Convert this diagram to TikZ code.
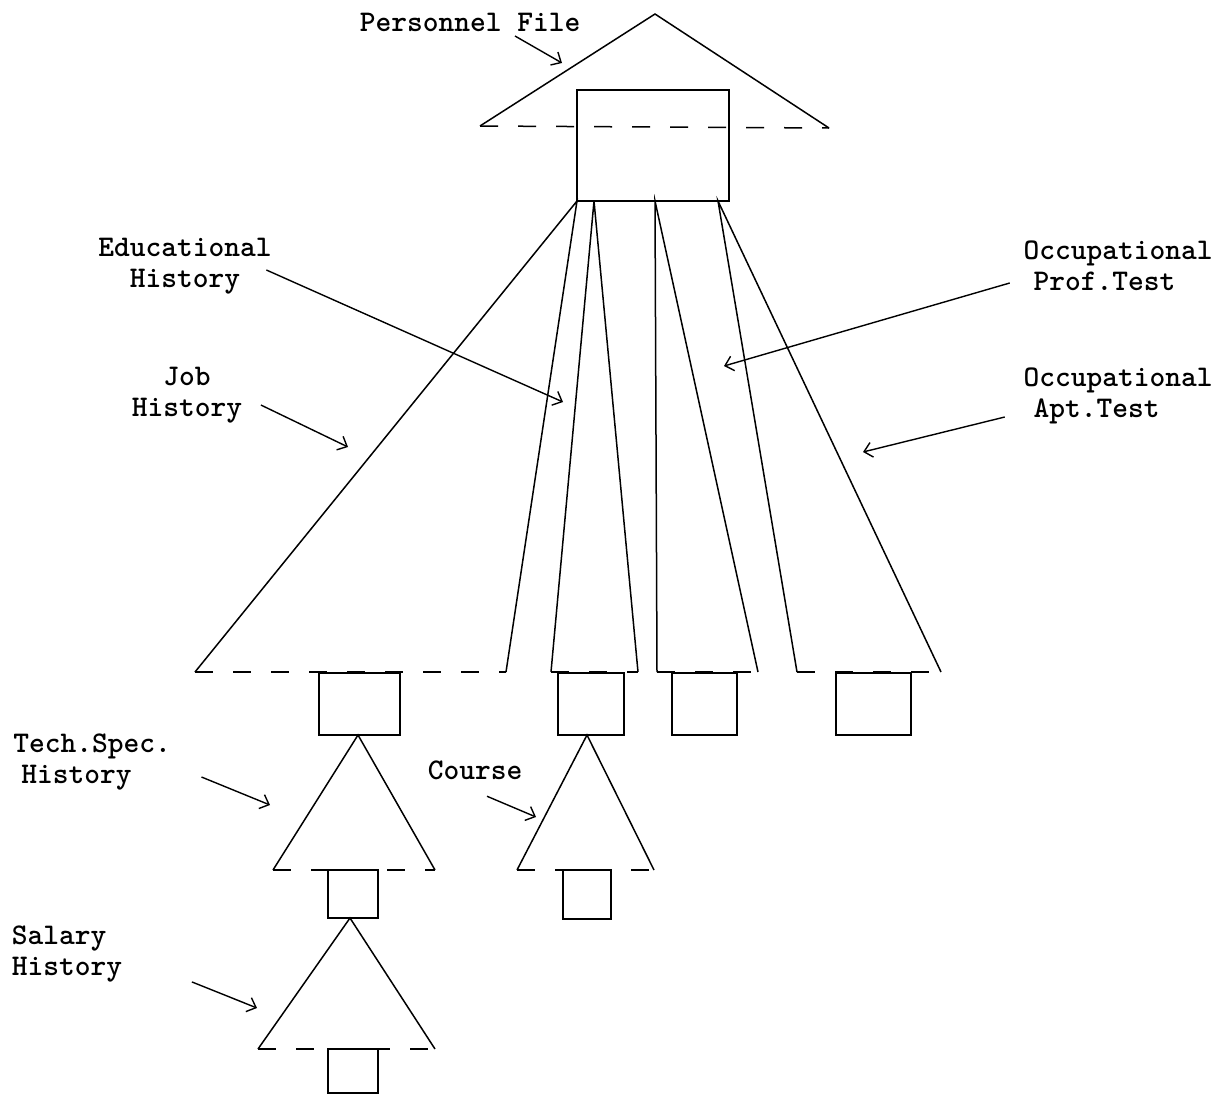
\documentclass[tikz,border=0pt]{standalone}
\usepackage{tikz}
\usetikzlibrary{arrows.meta}

\tikzset{
  lbl/.style={font=\fontsize{30}{31}\selectfont\ttfamily\bfseries,inner sep=1pt},
  arr/.style={-{Straight Barb[length=8pt,width=15pt]},line width=1.4pt},
  base/.style={dash pattern=on 18pt off 20pt},
}

\begin{document}
\begin{tikzpicture}[x=1pt,y=-1pt,line width=1.5pt]
  \useasboundingbox (0,0) rectangle (1229,1095);
  % root segment
  \draw (480,126) -- (655,14) -- (829,128);
  \draw[base] (480,126) -- (829,128);
  \draw (577,90) rectangle (729,201);
  % child segments of the root
  \draw (195,672) -- (577,201) -- (506,672);
  \draw[base] (195,672) -- (506,672);
  \draw (551,672) -- (594,201) -- (638,672);
  \draw[base] (551,672) -- (638,672);
  \draw (657,672) -- (655,201) -- (758,672);
  \draw[base] (657,672) -- (758,672);
  \draw (797,672) -- (718,201) -- (941,672);
  \draw[base] (797,672) -- (941,672);
  \draw (319,673) rectangle (400,735);
  \draw (558,673) rectangle (624,735);
  \draw (672,673) rectangle (737,735);
  \draw (836,673) rectangle (911,735);
  % lower levels
  \draw (273,870) -- (358,735) -- (435,870);
  \draw[base] (273,870) -- (435,870);
  \draw (328,870) rectangle (378,918);
  \draw (258,1049) -- (350,918) -- (435,1049);
  \draw[base] (258,1049) -- (435,1049);
  \draw (328,1049) rectangle (378,1093);
  \draw (517,870) -- (587,735) -- (654,870);
  \draw[base] (517,870) -- (654,870);
  \draw (563,870) rectangle (611,919);

  % labels
  \node[lbl] (pf) at (470,22) {Personnel File};
  \node[lbl,align=center] (edu) at (185,266) {Educational\\History};
  \node[lbl,align=center] (job) at (187,395) {Job\\History};
  \node[lbl,align=left] (prof) at (1118,266) {Occupational\\\hspace*{10pt}Prof.Test};
  \node[lbl,align=left] (apt) at (1118,396) {Occupational\\\hspace*{10pt}Apt.Test};
  \node[lbl,align=left] (tech) at (92,762) {Tech.Spec.\\\hspace*{8pt}History};
  \node[lbl] (course) at (475,770) {Course};
  \node[lbl,align=left] (sal) at (67,954) {Salary\\History};

  \coordinate (pftip) at (562,63);
  \coordinate (edutip) at (563,402);
  \coordinate (jobtip) at (348,447);
  \coordinate (proftip) at (724,366);
  \coordinate (apttip) at (863,452);
  \coordinate (techtip) at (270,805);
  \coordinate (coursetip) at (536,817);
  \coordinate (saltip) at (257,1008);

  \draw[arr] (pf.south) ++(45,3) -- (pftip);
  \draw[arr] (edu.east) ++(-7,4) -- (edutip);
  \draw[arr] (job.east) ++(17,10) -- (jobtip);
  \draw[arr] (prof.west) ++(-12,17) -- (proftip);
  \draw[arr] (apt.west) ++(-17,21) -- (apttip);
  \draw[arr] (tech.east) ++(29,15) -- (techtip);
  \draw[arr] (course.south) ++(12,15) -- (coursetip);
  \draw[arr] (sal.south east) ++(68,-2) -- (saltip);
\end{tikzpicture}
\end{document}
